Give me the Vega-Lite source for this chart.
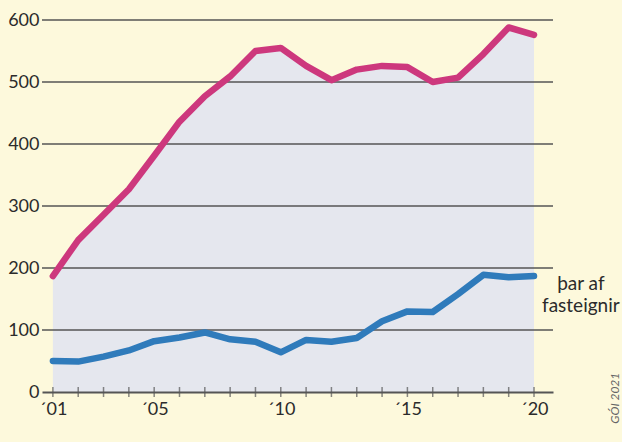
{
  "$schema": "https://vega.github.io/schema/vega-lite/v6.json",
  "width": 511,
  "height": 372,
  "autosize": "none",
  "padding": {"left": 42, "top": 20, "right": 69, "bottom": 50},
  "background": "#fdf9dc",
  "config": {
    "view": {"stroke": null},
    "font": "Lato",
    "axis": {"labelFont": "Lato", "labelColor": "#2b2b2b"}
  },
  "datasets": {
    "main": [
      {"year": 2001, "total": 187, "fasteignir": 50},
      {"year": 2002, "total": 245, "fasteignir": 49},
      {"year": 2003, "total": 286, "fasteignir": 57},
      {"year": 2004, "total": 327, "fasteignir": 67},
      {"year": 2005, "total": 381, "fasteignir": 82},
      {"year": 2006, "total": 436, "fasteignir": 88},
      {"year": 2007, "total": 477, "fasteignir": 96},
      {"year": 2008, "total": 509, "fasteignir": 85},
      {"year": 2009, "total": 550, "fasteignir": 81},
      {"year": 2010, "total": 555, "fasteignir": 64},
      {"year": 2011, "total": 526, "fasteignir": 84},
      {"year": 2012, "total": 503, "fasteignir": 81},
      {"year": 2013, "total": 520, "fasteignir": 87},
      {"year": 2014, "total": 526, "fasteignir": 114},
      {"year": 2015, "total": 524, "fasteignir": 130},
      {"year": 2016, "total": 500, "fasteignir": 129},
      {"year": 2017, "total": 507, "fasteignir": 158},
      {"year": 2018, "total": 545, "fasteignir": 189},
      {"year": 2019, "total": 588, "fasteignir": 185},
      {"year": 2020, "total": 576, "fasteignir": 187}
    ],
    "grid": [
      {"v": 100}, {"v": 200}, {"v": 300}, {"v": 400}, {"v": 500}, {"v": 600}
    ],
    "notes": [
      {"x": 2021.85, "y": 165, "label": "þar af\nfasteignir", "kind": "note"},
      {"x": 2023.2, "y": -10, "label": "GÓI 2021", "kind": "credit"}
    ]
  },
  "layer": [
    {
      "data": {"name": "main"},
      "mark": {"type": "area", "color": "#e5e7ee"},
      "encoding": {
        "x": {
          "field": "year", "type": "quantitative",
          "scale": {"domain": [2000.57, 2020.75], "nice": false, "zero": false},
          "axis": {
            "title": null,
            "values": [2001, 2005, 2010, 2015, 2020],
            "labelExpr": "'´' + slice(toString(datum.value), 2)",
            "ticks": false,
            "grid": false,
            "domain": true,
            "domainColor": "#555555",
            "domainWidth": 2,
            "labelFontSize": 18,
            "labelPadding": 8,
            "zindex": 1
          }
        },
        "y": {
          "field": "total", "type": "quantitative",
          "scale": {"domain": [0, 600], "nice": false},
          "axis": {
            "title": null,
            "values": [0, 100, 200, 300, 400, 500, 600],
            "ticks": false,
            "domain": false,
            "grid": false,
            "labelFontSize": 18,
            "labelPadding": 3
          }
        }
      }
    },
    {
      "data": {"name": "grid"},
      "mark": {"type": "rule", "color": "#555555", "strokeWidth": 1.6},
      "encoding": {"y": {"field": "v", "type": "quantitative"}}
    },
    {
      "data": {"name": "main"},
      "mark": {"type": "tick", "orient": "vertical", "color": "#555555", "thickness": 1.5, "size": 10},
      "encoding": {
        "x": {"field": "year", "type": "quantitative"},
        "y": {"datum": 0}
      }
    },
    {
      "data": {"name": "main"},
      "mark": {"type": "line", "color": "#cd387d", "strokeWidth": 6.5, "strokeCap": "round", "strokeJoin": "round"},
      "encoding": {
        "x": {"field": "year", "type": "quantitative"},
        "y": {"field": "total", "type": "quantitative"}
      }
    },
    {
      "data": {"name": "main"},
      "mark": {"type": "line", "color": "#2f7bbb", "strokeWidth": 6.5, "strokeCap": "round", "strokeJoin": "round"},
      "encoding": {
        "x": {"field": "year", "type": "quantitative"},
        "y": {"field": "fasteignir", "type": "quantitative"}
      }
    },
    {
      "data": {"name": "notes"},
      "transform": [{"filter": "datum.kind == 'note'"}],
      "mark": {"type": "text", "align": "center", "baseline": "alphabetic", "fontSize": 19, "lineHeight": 22, "lineBreak": "\n", "color": "#2b2b2b", "clip": false},
      "encoding": {
        "x": {"field": "x", "type": "quantitative"},
        "y": {"field": "y", "type": "quantitative"},
        "text": {"field": "label"}
      }
    },
    {
      "data": {"name": "notes"},
      "transform": [{"filter": "datum.kind == 'credit'"}],
      "mark": {"type": "text", "align": "center", "baseline": "middle", "angle": 270, "fontSize": 12, "fontStyle": "italic", "color": "#666666", "clip": false},
      "encoding": {
        "x": {"field": "x", "type": "quantitative"},
        "y": {"field": "y", "type": "quantitative"},
        "text": {"field": "label"}
      }
    }
  ]
}
